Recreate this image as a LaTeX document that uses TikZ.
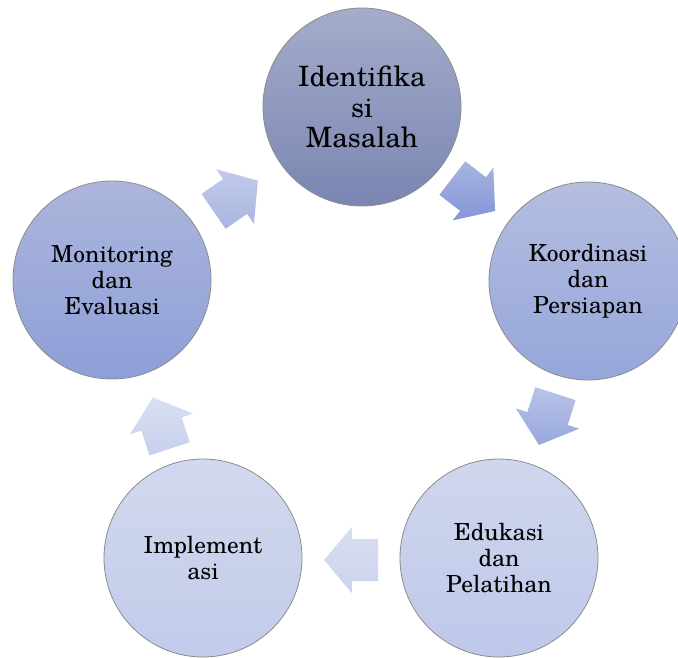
\documentclass[tikz,border=0pt]{standalone}
\usepackage{fontspec}
\setmainfont{TeX Gyre Schola}
\usetikzlibrary{shapes.arrows,calc}
\definecolor{cAt}{RGB}{165,172,202}\definecolor{cAb}{RGB}{122,134,178}
\definecolor{cBt}{RGB}{180,190,224}\definecolor{cBb}{RGB}{150,166,218}
\definecolor{cCt}{RGB}{208,214,237}\definecolor{cCb}{RGB}{190,200,233}
\definecolor{cDt}{RGB}{210,216,238}\definecolor{cDb}{RGB}{194,203,234}
\definecolor{cEt}{RGB}{172,182,220}\definecolor{cEb}{RGB}{142,158,216}
\definecolor{aAt}{RGB}{168,180,224}\definecolor{aAb}{RGB}{132,150,214}
\definecolor{aBt}{RGB}{185,195,230}\definecolor{aBb}{RGB}{152,168,222}
\definecolor{aCt}{RGB}{218,223,241}\definecolor{aCb}{RGB}{202,210,237}
\definecolor{aDt}{RGB}{218,223,241}\definecolor{aDb}{RGB}{198,207,236}
\definecolor{aEt}{RGB}{195,203,232}\definecolor{aEb}{RGB}{168,181,225}
\tikzset{
  stage/.style={circle,minimum size=198pt,inner sep=0pt,draw=black!45,line width=0.8pt,
    align=center,font=\fontsize{23.5}{26}\selectfont},
  blockarrow/.style={single arrow,minimum height=54pt,inner sep=0pt,
    text height=21pt,text depth=21pt,text width=0pt,
    single arrow head extend=12pt,single arrow tip angle=100,draw=none}
}
\begin{document}
\begin{tikzpicture}[x=1pt,y=-1pt]
\useasboundingbox (0,0) rectangle (678,657);
\node[stage,top color=cAt,bottom color=cAb,font=\fontsize{28}{30.5}\selectfont] (c1) at (362,107) {Identifika\\si\\Masalah};
\node[stage,top color=cBt,bottom color=cBb] (c2) at (588,281) {Koordinasi\\dan\\Persiapan};
\node[stage,top color=cCt,bottom color=cCb] (c3) at (499,558) {Edukasi\\dan\\Pelatihan};
\node[stage,top color=cDt,bottom color=cDb] (c4) at (203,558) {Implement\\asi};
\node[stage,top color=cEt,bottom color=cEb] (c5) at (112,280) {Monitoring\\dan\\Evaluasi};
\node[blockarrow,rotate=-37.6,xshift=-8pt,shading angle=37.6,top color=aAt,bottom color=aAb] (a1) at ($(c1)!0.5!(c2)+(-2,0)$) {};
\node[blockarrow,rotate=-107.8,xshift=-8pt,shading angle=107.8,top color=aBt,bottom color=aBb] (a2) at ($(c2)!0.5!(c3)+(4,-1)$) {};
\node[blockarrow,rotate=180,xshift=-8pt,shading angle=180,top color=aCt,bottom color=aCb] (a3) at ($(c3)!0.5!(c4)+(1,2)$) {};
\node[blockarrow,rotate=108.1,xshift=-8pt,shading angle=-108.1,top color=aDt,bottom color=aDb] (a4) at ($(c4)!0.5!(c5)+(4,5)$) {};
\node[blockarrow,rotate=34.7,xshift=-8pt,shading angle=-34.7,top color=aEt,bottom color=aEb] (a5) at ($(c5)!0.5!(c1)+(-2,3)$) {};
\end{tikzpicture}
\end{document}
